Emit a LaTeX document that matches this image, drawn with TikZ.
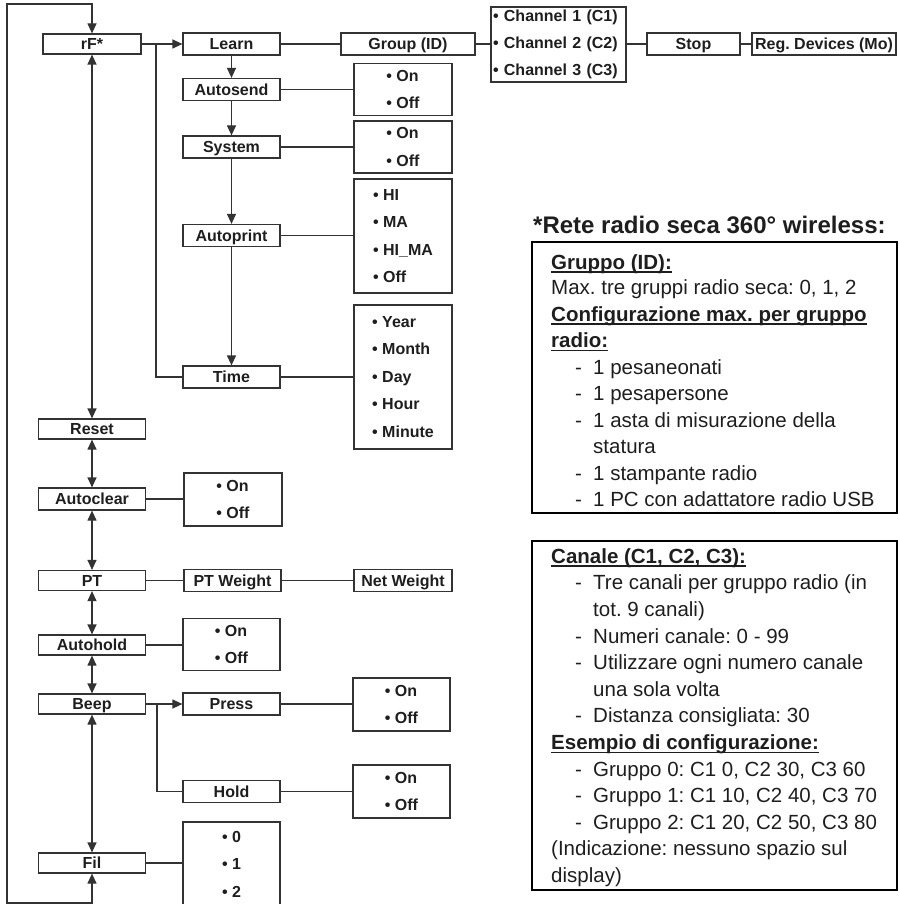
\documentclass[tikz,border=0pt]{standalone}
\usepackage{fontspec}
\setmainfont{Liberation Sans}
\usetikzlibrary{arrows.meta}
\definecolor{lnc}{HTML}{333333}
\definecolor{txc}{HTML}{1E1E1E}
\newcommand{\dashitem}[1]{\makebox[18pt][l]{-}#1}
\frenchspacing
\tikzset{
  link/.style={draw=lnc, line width=1.2pt},
  linkarr/.style={link, -{Triangle[length=10pt,width=9pt]}},
  linkdarr/.style={link, {Triangle[length=10pt,width=9pt]}-{Triangle[length=10pt,width=9pt]}},
  menubox/.style={draw=lnc, line width=1.2pt, inner sep=0pt, text=txc,
    font=\bfseries\fontsize{16pt}{18pt}\selectfont, text height=11.5pt, text depth=0pt,
    minimum height=22pt},
  optbox/.style={draw=lnc, line width=1.2pt, inner sep=0pt, text=txc, align=left,
    font=\bfseries\fontsize{16pt}{27.5pt}\selectfont},
  bodytext/.style={anchor=base west, inner sep=0pt, text=txc, font=\fontsize{20.5pt}{26.5pt}\selectfont\frenchspacing},
  headtext/.style={bodytext, font=\bfseries\fontsize{20.5pt}{26.5pt}\selectfont\frenchspacing},
  ulstyle/.style={draw=txc, line width=1.4pt},
  panelbox/.style={draw=black, line width=1.8pt},
}
\begin{document}
\begin{tikzpicture}[x=1pt,y=-1pt]
\useasboundingbox (0,0) rectangle (899,904);

% ---------- left column ----------
\node[menubox, minimum width=98pt, minimum height=20pt] (rf) at (92,44) {rF*};
\node[menubox, minimum width=107pt, minimum height=20pt] (reset) at (92,429) {Reset};
\node[menubox, minimum width=107pt] (autoclear) at (92,499) {Autoclear};
\node[menubox, minimum width=107pt, minimum height=20pt] (pt) at (92,580.5) {PT};
\node[menubox, minimum width=107pt, minimum height=20pt] (autohold) at (92,645) {Autohold};
\node[menubox, minimum width=107pt, minimum height=20pt] (beep) at (92,704) {Beep};
\node[menubox, minimum width=107pt, minimum height=20pt] (fil) at (92,863) {Fil};

% ---------- second column ----------
\node[menubox, minimum width=97pt] (learn) at (231.5,44) {Learn};
\node[menubox, minimum width=97pt] (autosend) at (231.5,89.5) {Autosend};
\node[menubox, minimum width=97pt] (system) at (231.5,147) {System};
\node[menubox, minimum width=97pt] (autoprint) at (231.5,235.5) {Autoprint};
\node[menubox, minimum width=97pt] (time) at (231.5,377) {Time};
\node[optbox, minimum width=98pt, minimum height=53pt] (oautoclear) at (233,499.5) {• On\\• Off};
\node[menubox, minimum width=97pt] (ptw) at (232.5,580.5) {PT Weight};
\node[optbox, minimum width=97pt, minimum height=52pt] (oautohold) at (231.5,644.5) {• On\\• Off};
\node[menubox, minimum width=97pt] (press) at (231.5,704) {Press};
\node[menubox, minimum width=97pt] (hold) at (231.5,791.5) {Hold};
\node[optbox, minimum width=97pt, minimum height=84pt] (ofil) at (231.5,864) {• 0\\• 1\\• 2};

% ---------- third column ----------
\node[menubox, minimum width=134pt] (group) at (408,44) {Group (ID)};
\node[optbox, minimum width=98pt, minimum height=52pt] (oautosend) at (403,89.5) {• On\\• Off};
\node[optbox, minimum width=98pt, minimum height=52pt] (osystem) at (403,147) {• On\\• Off};
\node[optbox, minimum width=98pt, minimum height=114pt] (oautoprint) at (403,236) {• HI\\• MA\\• HI\_MA\\• Off};
\node[optbox, minimum width=98pt, minimum height=144pt] (otime) at (403,377) {• Year\\• Month\\• Day\\• Hour\\• Minute};
\node[menubox, minimum width=98pt] (netw) at (403,580.5) {Net Weight};
\node[optbox, minimum width=97pt, minimum height=53pt] (opress) at (401.5,704.5) {• On\\• Off};
\node[optbox, minimum width=97pt, minimum height=53pt] (ohold) at (401.5,791.5) {• On\\• Off};

% ---------- top row ----------
\node[optbox, font=\bfseries\fontsize{16pt}{27pt}\selectfont, text width=131pt, inner xsep=2pt, minimum height=75pt] (chan) at (558.5,44.5)
  {• Channel 1 (C1)\\• Channel 2 (C2)\\• Channel 3 (C3)};
\node[menubox, minimum width=93pt] (stop) at (693.5,44) {Stop};
\node[menubox, minimum width=144pt] (reg) at (824,44) {Reg. Devices (Mo)};

% ---------- connectors ----------
\coordinate (lb1) at (92,903);
\coordinate (lb2) at (7,903);
\coordinate (lt2) at (7,4);
\coordinate (lt1) at (92,4);
\draw[linkdarr] (fil.south) -- (lb1) -- (lb2) -- (lt2) -- (lt1) -- (rf.north);

\draw[linkdarr] (rf.south) -- (reset.north);
\draw[linkdarr] (reset.south) -- (autoclear.north);
\draw[linkdarr] (autoclear.south) -- (pt.north);
\draw[linkdarr] (pt.south) -- (autohold.north);
\draw[linkdarr] (autohold.south) -- (beep.north);
\draw[linkdarr] (beep.south) -- (fil.north);

\draw[linkarr] (rf.east) -- (learn.west);
\coordinate (br1) at (156,44);
\draw[link] (br1) |- (time.west);
\draw[linkarr] (learn.south) -- (autosend.north);
\draw[linkarr] (autosend.south) -- (system.north);
\draw[linkarr] (system.south) -- (autoprint.north);
\draw[linkarr] (autoprint.south) -- (time.north);

\draw[link] (learn.east) -- (group.west);
\draw[link] (group.east) -- (group.east -| chan.west);
\draw[link] (chan.east |- stop.west) -- (stop.west);
\draw[link] (stop.east) -- (reg.west);

\draw[link] (autosend.east) -- (autosend.east -| oautosend.west);
\draw[link] (system.east) -- (system.east -| osystem.west);
\draw[link] (autoprint.east) -- (autoprint.east -| oautoprint.west);
\draw[link] (time.east) -- (time.east -| otime.west);

\draw[link] (autoclear.east) -- (autoclear.east -| oautoclear.west);
\draw[link] (pt.east) -- (ptw.west);
\draw[link] (ptw.east) -- (netw.west);
\draw[link] (autohold.east) -- (autohold.east -| oautohold.west);
\draw[linkarr] (beep.east) -- (press.west);
\coordinate (br2) at (157,704);
\draw[link] (br2) |- (hold.west);
\draw[link] (press.east) -- (press.east -| opress.west);
\draw[link] (hold.east) -- (hold.east -| ohold.west);
\draw[link] (fil.east) -- (fil.east -| ofil.west);

% ---------- right-hand notes ----------
\node[anchor=base west, inner sep=0pt, text=txc, font=\bfseries\fontsize{24pt}{28pt}\selectfont] (title) at (533,233.6)
  {*Rete radio seca 360° wireless:};

\draw[panelbox] (532,242) rectangle (897,513);
\node[headtext] (g1) at (551,269.3) {Gruppo (ID):};
\node[bodytext] (g2) at (551,294.8) {Max. tre gruppi radio seca: 0, 1, 2};
\node[headtext] (g3) at (551,321.3) {Configurazione max. per gruppo\hspace{5.7pt}};
\node[headtext] (g4) at (551,347.8) {radio:};
\node[bodytext] (g5) at (575,374.3) {\dashitem{1 pesaneonati}};
\node[bodytext] (g6) at (575,400.8) {\dashitem{1 pesapersone}};
\node[bodytext] (g7) at (575,427.3) {\dashitem{1 asta di misurazione della}};
\node[bodytext] (g8) at (593,453.8) {statura};
\node[bodytext] (g9) at (575,480.3) {\dashitem{1 stampante radio}};
\node[bodytext] (g10) at (575,506.8) {\dashitem{1 PC con adattatore radio USB}};
\foreach \n in {g1,g3,g4}
  \draw[ulstyle] ([yshift=-2.8pt]\n.base west) -- ([yshift=-2.8pt]\n.base east);

\draw[panelbox] (532,541) rectangle (897,890);
\node[headtext] (c1) at (551,563.3) {Canale (C1, C2, C3):};
\node[bodytext] (c2) at (575,589.9) {\dashitem{Tre canali per gruppo radio (in}};
\node[bodytext] (c3) at (593,616.5) {tot. 9 canali)};
\node[bodytext] (c4) at (575,643.1) {\dashitem{Numeri canale: 0 - 99}};
\node[bodytext] (c5) at (575,669.7) {\dashitem{Utilizzare ogni numero canale}};
\node[bodytext] (c6) at (593,696.3) {una sola volta};
\node[bodytext] (c7) at (575,722.9) {\dashitem{Distanza consigliata: 30}};
\node[headtext] (c8) at (551,749.5) {Esempio di configurazione:};
\node[bodytext] (c9) at (575,776.1) {\dashitem{Gruppo 0: C1 0, C2 30, C3 60}};
\node[bodytext] (c10) at (575,802.7) {\dashitem{Gruppo 1: C1 10, C2 40, C3 70}};
\node[bodytext] (c11) at (575,829.3) {\dashitem{Gruppo 2: C1 20, C2 50, C3 80}};
\node[bodytext] (c12) at (551,855.9) {(Indicazione: nessuno spazio sul};
\node[bodytext] (c13) at (551,882.5) {display)};
\foreach \n in {c1,c8}
  \draw[ulstyle] ([yshift=-2.8pt]\n.base west) -- ([yshift=-2.8pt]\n.base east);
\end{tikzpicture}
\end{document}
